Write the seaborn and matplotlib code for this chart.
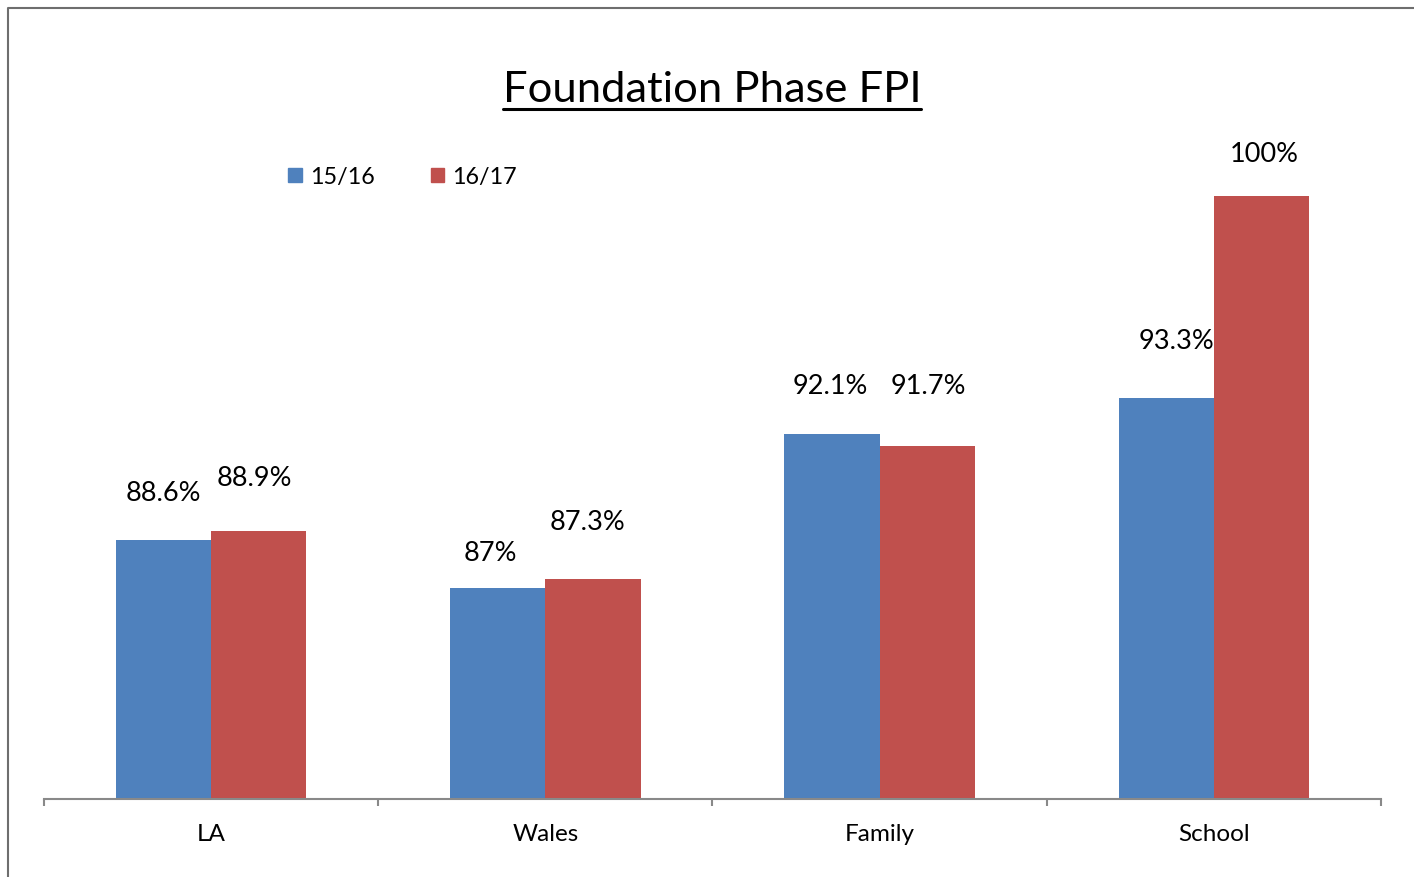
import pandas as pd
import seaborn as sns
import matplotlib.pyplot as plt
from matplotlib.lines import Line2D

# data
areas = ["LA", "Wales", "Family", "School"]
years = ["15/16", "16/17"]
fpi_1516 = [88.6, 87.0, 92.1, 93.3]
fpi_1617 = [88.9, 87.3, 91.7, 100.0]
label_1516 = ["88.6%", "87%", "92.1%", "93.3%"]
label_1617 = ["88.9%", "87.3%", "91.7%", "100%"]

# label nudges in px (dx, gap above bar top), as placed in the original
dx_1516 = [0, -7, -2, 10]
dx_1617 = [-4, -6, 1, 3]
gap_1516 = [40, 28, 41, 50]
gap_1617 = [46, 50, 53, 35]

BLUE = "#4F81BD"
RED = "#C0504D"
GREY = "#898989"


def make_df():
    rows = []
    for a, v in zip(areas, fpi_1516):
        rows.append({"area": a, "year": years[0], "value": v})
    for a, v in zip(areas, fpi_1617):
        rows.append({"area": a, "year": years[1], "value": v})
    return pd.DataFrame(rows)


def main():
    sns.set_theme(style="white")
    plt.rcParams["font.family"] = ["Lato", "DejaVu Sans"]
    plt.rcParams["text.color"] = "black"

    W, H = 1414, 878
    fig = plt.figure(figsize=(W / 100, H / 100), dpi=100)
    ax = fig.add_axes([44 / W, 1 - 800 / H, (1381 - 44) / W, (800 - 197) / H])

    df = make_df()
    sns.barplot(data=df, x="area", y="value", hue="year", order=areas,
                hue_order=years, palette=[BLUE, RED], width=0.57,
                linewidth=0, edgecolor="none", saturation=1, ax=ax,
                legend=False)

    ax.set_ylim(80, 100)
    ax.set_xlim(-0.5, 3.5)
    ax.set_xlabel("")
    ax.set_ylabel("")
    ax.set_yticks([])
    for s in ["left", "right", "top"]:
        ax.spines[s].set_visible(False)
    ax.spines["bottom"].set_color(GREY)
    ax.spines["bottom"].set_linewidth(1.5)

    # category boundaries as minor ticks, labels on major ticks
    ax.set_xticks([-0.5, 0.5, 1.5, 2.5, 3.5], minor=True)
    ax.tick_params(axis="x", which="minor", direction="out", length=5,
                   width=1.5, color=GREY, bottom=True)
    ax.tick_params(axis="x", which="major", length=0, pad=17,
                   labelsize=17.5, labelcolor="black")

    # data labels
    for cont, labels, dxs, gaps in zip(ax.containers, [label_1516, label_1617],
                                       [dx_1516, dx_1617], [gap_1516, gap_1617]):
        for bar, txt, dx, g in zip(cont, labels, dxs, gaps):
            x = bar.get_x() + bar.get_width() / 2
            ax.annotate(txt, (x, bar.get_height()), xytext=(dx * 0.72, g * 0.72),
                        textcoords="offset points", ha="center",
                        va="baseline", fontsize=19.5, color="black",
                        clip_on=False, annotation_clip=False)

    # legend
    handles = [plt.Rectangle((0, 0), 1, 1, color=c) for c in [BLUE, RED]]
    fig.legend(handles, years, loc="center left",
               bbox_to_anchor=(288 / W, 1 - 177.5 / H), ncol=2, frameon=False,
               fontsize=16.8, handlelength=0.58, handleheight=0.58,
               handletextpad=0.36, columnspacing=2.4, borderpad=0,
               borderaxespad=0, labelcolor="black")

    # underlined title
    title = fig.text(712 / W, 1 - 102 / H, "Foundation Phase FPI",
                     ha="center", va="baseline", fontsize=31.3, color="black")
    fig.canvas.draw()
    bb = title.get_window_extent()
    fig.add_artist(Line2D([bb.x0 / W, bb.x1 / W], [1 - 110 / H, 1 - 110 / H],
                          color="black", lw=2.2))

    # chart frame (left and top edges visible)
    fig.add_artist(Line2D([8 / W, 8 / W, 1], [0, 1 - 8.5 / H, 1 - 8.5 / H],
                          color="#6e6e6e", lw=1.5))

    fig.savefig("out.png", dpi=100)


if __name__ == "__main__":
    main()
